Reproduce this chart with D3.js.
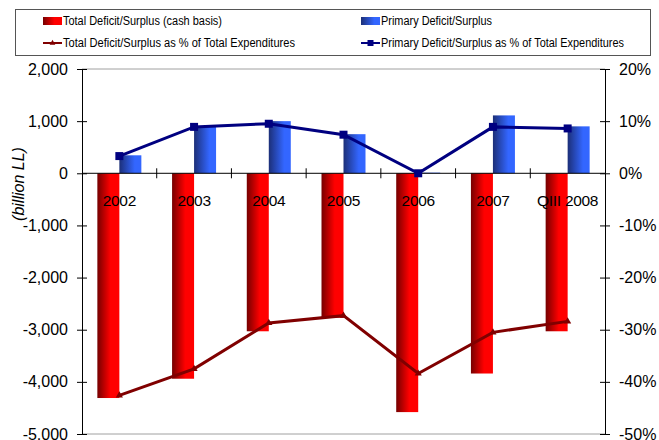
<!DOCTYPE html>
<html>
<head>
<meta charset="utf-8">
<script src="https://cdn.jsdelivr.net/npm/d3@7"></script>
<style>
    body { margin: 0; background: #fff; }
    svg { display: block; font-family: "Liberation Sans", Arial, sans-serif; }
</style>
</head>
<body>
<div id="chart"></div>
<script>
// Fiscal balance chart, billion LL and % of total expenditures
const width = 659;
const height = 440;

const categories = ["2002", "2003", "2004", "2005", "2006", "2007", "QIII 2008"];
const totalDeficit = [-4310, -3940, -3030, -2770, -4580, -3840, -3030];
const primaryDeficit = [345, 900, 1000, 750, 12, 1110, 900];
const totalPct = [-42.6, -37.5, -28.7, -27.3, -38.4, -30.5, -28.4];
const primaryPct = [3.3, 8.9, 9.5, 7.4, 0.0, 8.9, 8.6];

const leftTicks = [2000, 1000, 0, -1000, -2000, -3000, -4000, -5000];
const rightTicks = [20, 10, 0, -10, -20, -30, -40, -50];

const legendLabels = [
    "Total Deficit/Surplus (cash basis)",
    "Primary Deficit/Surplus",
    "Total Deficit/Surplus as % of Total Expenditures",
    "Primary Deficit/Surplus as % of Total Expenditures"
];

const plot = { left: 82, right: 605, top: 69, bottom: 434 };

const svg = d3.select("#chart")
    .append("svg")
    .attr("width", width)
    .attr("height", height);

// gradients for the bars
const defs = svg.append("defs");
const redGrad = defs.append("linearGradient").attr("id", "redGrad");
redGrad.append("stop").attr("offset", "0%").attr("stop-color", "#760000");
redGrad.append("stop").attr("offset", "60%").attr("stop-color", "#ff0000");
redGrad.append("stop").attr("offset", "100%").attr("stop-color", "#ff0000");
const blueGrad = defs.append("linearGradient").attr("id", "blueGrad");
blueGrad.append("stop").attr("offset", "0%").attr("stop-color", "#1c2f78");
blueGrad.append("stop").attr("offset", "70%").attr("stop-color", "#3366ff");
blueGrad.append("stop").attr("offset", "100%").attr("stop-color", "#3366ff");

const x = d3.scaleBand()
    .domain(categories)
    .range([plot.left, plot.right])
    .padding(0);

const yLeft = d3.scaleLinear()
    .domain([-5000, 2000])
    .range([plot.bottom, plot.top]);

const yRight = d3.scaleLinear()
    .domain([-50, 20])
    .range([plot.bottom, plot.top]);

const barW = 22;

// top and bottom gray borders
svg.append("line")
    .attr("x1", plot.left).attr("x2", plot.right)
    .attr("y1", plot.top).attr("y2", plot.top)
    .attr("stroke", "#a0a0a0");
svg.append("line")
    .attr("x1", plot.left).attr("x2", plot.right)
    .attr("y1", plot.bottom).attr("y2", plot.bottom)
    .attr("stroke", "#a0a0a0");

// bars
svg.append("g")
    .selectAll("rect")
    .data(categories)
    .enter()
    .append("rect")
    .attr("x", (d) => x(d) + x.bandwidth() / 2 - barW)
    .attr("width", barW)
    .attr("y", (d, i) => yLeft(Math.max(0, totalDeficit[i])))
    .attr("height", (d, i) => Math.abs(yLeft(totalDeficit[i]) - yLeft(0)))
    .attr("fill", "url(#redGrad)");

svg.append("g")
    .selectAll("rect")
    .data(categories)
    .enter()
    .append("rect")
    .attr("x", (d) => x(d) + x.bandwidth() / 2)
    .attr("width", barW)
    .attr("y", (d, i) => yLeft(Math.max(0, primaryDeficit[i])))
    .attr("height", (d, i) => Math.abs(yLeft(primaryDeficit[i]) - yLeft(0)))
    .attr("fill", "url(#blueGrad)");

// left axis
const fmt = d3.format(",");
const leftAxis = d3.axisLeft(yLeft)
    .tickValues(leftTicks)
    .tickSize(0)
    .tickPadding(14)
    .tickFormat(d => fmt(d).replace("\u2212", "-"));
const gl = svg.append("g")
    .attr("transform", `translate(${plot.left},0)`)
    .call(leftAxis);
gl.select(".domain").attr("stroke", "#000");
gl.selectAll(".tick text").attr("font-size", 16).attr("fill", "#000")
    .attr("font-family", "'Liberation Sans', Arial, sans-serif");
gl.selectAll(".tick").append("line")
    .attr("x1", -5).attr("x2", 5)
    .attr("stroke", "#000");

// right axis
const rightAxis = d3.axisRight(yRight)
    .tickValues(rightTicks)
    .tickSize(0)
    .tickPadding(14)
    .tickFormat(d => d + "%");
const gr = svg.append("g")
    .attr("transform", `translate(${plot.right},0)`)
    .call(rightAxis);
gr.select(".domain").attr("stroke", "#000");
gr.selectAll(".tick text").attr("font-size", 16).attr("fill", "#000")
    .attr("font-family", "'Liberation Sans', Arial, sans-serif");
gr.selectAll(".tick").append("line")
    .attr("x1", -5).attr("x2", 5)
    .attr("stroke", "#000");

// zero line with category separators
svg.append("line")
    .attr("x1", plot.left).attr("x2", plot.right)
    .attr("y1", yLeft(0)).attr("y2", yLeft(0))
    .attr("stroke", "#000");
svg.append("g")
    .selectAll("line")
    .data(categories.slice(1))
    .enter()
    .append("line")
    .attr("x1", d => x(d)).attr("x2", d => x(d))
    .attr("y1", yLeft(0) - 5).attr("y2", yLeft(0) + 5)
    .attr("stroke", "#000");

// category labels
svg.append("g")
    .selectAll("text")
    .data(categories)
    .enter()
    .append("text")
    .attr("x", d => x(d) + x.bandwidth() / 2)
    .attr("y", yLeft(0) + 33)
    .attr("text-anchor", "middle")
    .attr("font-size", 15.5)
    .attr("letter-spacing", "-0.3")
    .text(d => d);

// y axis title
svg.append("text")
    .attr("transform", `translate(24,${184}) rotate(-90)`)
    .attr("text-anchor", "middle")
    .attr("font-size", 16)
    .attr("font-style", "italic")
    .text("(billion LL)");

// lines
const cx = d => x(d) + x.bandwidth() / 2;

const totalLine = d3.line()
    .x(d => cx(d))
    .y((d, i) => yRight(totalPct[i]));
svg.append("path")
    .datum(categories)
    .attr("d", totalLine)
    .attr("fill", "none")
    .attr("stroke", "#800000")
    .attr("stroke-width", 3);
svg.append("g")
    .selectAll("path")
    .data(categories)
    .enter()
    .append("path")
    .attr("d", d3.symbol(d3.symbolTriangle, 22))
    .attr("transform", (d, i) => `translate(${cx(d)},${yRight(totalPct[i])})`)
    .attr("fill", "#800000");

const primaryLine = d3.line()
    .x(d => cx(d))
    .y((d, i) => yRight(primaryPct[i]));
svg.append("path")
    .datum(categories)
    .attr("d", primaryLine)
    .attr("fill", "none")
    .attr("stroke", "#000080")
    .attr("stroke-width", 3);
svg.append("g")
    .selectAll("rect")
    .data(categories)
    .enter()
    .append("rect")
    .attr("x", d => cx(d) - 4)
    .attr("y", (d, i) => yRight(primaryPct[i]) - 4)
    .attr("width", 8)
    .attr("height", 8)
    .attr("fill", "#000080");

// legend
const legend = svg.append("g");
legend.append("rect")
    .attr("x", 15.5).attr("y", 9.5)
    .attr("width", 635).attr("height", 46)
    .attr("fill", "#fff")
    .attr("stroke", "#555");

const legendPos = [
    { x: 43, y: 21, w: 159 },
    { x: 361, y: 21, w: 111 },
    { x: 43, y: 43, w: 232 },
    { x: 361, y: 43, w: 243 }
];

legend.append("rect")
    .attr("x", legendPos[0].x).attr("y", 17).attr("width", 19).attr("height", 8)
    .attr("fill", "url(#redGrad)");
legend.append("rect")
    .attr("x", legendPos[1].x).attr("y", 17).attr("width", 19).attr("height", 8)
    .attr("fill", "url(#blueGrad)");
legend.append("line")
    .attr("x1", legendPos[2].x).attr("x2", legendPos[2].x + 19)
    .attr("y1", legendPos[2].y).attr("y2", legendPos[2].y)
    .attr("stroke", "#800000").attr("stroke-width", 2);
legend.append("path")
    .attr("d", d3.symbol(d3.symbolTriangle, 14))
    .attr("transform", `translate(${legendPos[2].x + 9.5},${legendPos[2].y})`)
    .attr("fill", "#800000");
legend.append("line")
    .attr("x1", legendPos[3].x).attr("x2", legendPos[3].x + 19)
    .attr("y1", legendPos[3].y).attr("y2", legendPos[3].y)
    .attr("stroke", "#000080").attr("stroke-width", 2);
legend.append("rect")
    .attr("x", legendPos[3].x + 6.5).attr("y", legendPos[3].y - 3)
    .attr("width", 6).attr("height", 6)
    .attr("fill", "#000080");

legend.selectAll("text.leg")
    .data(legendLabels)
    .enter()
    .append("text")
    .attr("class", "leg")
    .attr("x", (d, i) => legendPos[i].x + 20)
    .attr("y", (d, i) => legendPos[i].y + 4)
    .attr("font-size", 12)
    .attr("textLength", (d, i) => legendPos[i].w)
    .attr("lengthAdjust", "spacingAndGlyphs")
    .text(d => d);
</script>
</body>
</html>
